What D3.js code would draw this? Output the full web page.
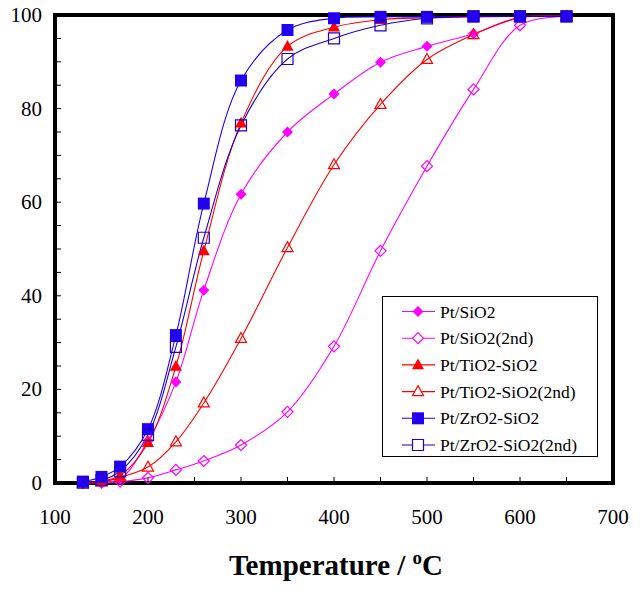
<!DOCTYPE html>
<html><head><meta charset="utf-8">
<script src="https://cdn.jsdelivr.net/npm/d3@7"></script>
<style>body{margin:0;background:#fff}svg{display:block}</style>
</head><body><svg id="c" width="644" height="595"></svg>
<script>
const temps = [130,150,170,200,230,260,300,350,400,450,500,550,600,650];
const ptSiO2      = [0,0.2,0.8,9,21.6,41.2,61.7,75,83.1,89.9,93.3,96,99.4,99.7];
const ptSiO2_2nd  = [0,0.1,0.3,1.1,2.8,4.7,8.1,15.2,29.2,49.6,67.7,84.1,97.8,99.7];
const ptTiO2      = [0.1,0.4,1.6,8.6,24.9,49.6,76.9,93.3,97.4,99,99.4,99.6,99.7,99.7];
const ptTiO2_2nd  = [0,0.2,1.2,3.4,8.8,17.1,30.9,50.3,68,80.9,90.5,95.8,99.5,99.7];
const ptZrO2      = [0.3,1.3,3.5,11.5,31.6,59.7,86,96.8,99.3,99.6,99.6,99.7,99.7,99.7];
const ptZrO2_2nd  = [0.1,0.6,2.5,10.3,29.1,52.4,76.4,90.6,95,97.8,99.3,99.7,99.7,99.7];
const seriesNames = ["Pt/SiO2","Pt/SiO2(2nd)","Pt/TiO2-SiO2","Pt/TiO2-SiO2(2nd)","Pt/ZrO2-SiO2","Pt/ZrO2-SiO2(2nd)"];
const xTicks = [100,200,300,400,500,600,700];
const yTicks = [0,20,40,60,80,100];

const series = [
  {name:seriesNames[0], v:ptSiO2, color:"#ff00ff", shape:"diamond", fill:true},
  {name:seriesNames[1], v:ptSiO2_2nd, color:"#ff00ff", shape:"diamond", fill:false},
  {name:seriesNames[2], v:ptTiO2, color:"#ff0000", shape:"triangle", fill:true},
  {name:seriesNames[3], v:ptTiO2_2nd, color:"#ff0000", shape:"triangle", fill:false},
  {name:seriesNames[4], v:ptZrO2, color:"#2200f0", shape:"square", fill:true},
  {name:seriesNames[5], v:ptZrO2_2nd, color:"#2000c8", shape:"square", fill:false},
];

const FF = '"Liberation Serif", "Times New Roman", Times, serif';
const svg = d3.select("#c");
const L=55, R=613, T=15, B=483;
const x = d3.scaleLinear().domain([100,700]).range([L,R]);
const y = d3.scaleLinear().domain([0,100]).range([B,T]);

// minor ticks
svg.append("g").selectAll("line").data(d3.range(5,100,5)).join("line")
  .attr("x1",L).attr("x2",L+6).attr("y1",d=>y(d)).attr("y2",d=>y(d))
  .attr("stroke","#000").attr("stroke-width",1);
svg.append("g").selectAll("line").data(d3.range(150,700,50)).join("line")
  .attr("x1",d=>x(d)).attr("x2",d=>x(d)).attr("y1",B).attr("y2",B-6)
  .attr("stroke","#000").attr("stroke-width",1);

// tick labels
svg.append("g").selectAll("text").data(yTicks).join("text")
  .style("font-family",FF).style("font-size","21px")
  .attr("x",42).attr("y",d=>y(d)+7).attr("text-anchor","end").text(d=>d);
svg.append("g").selectAll("text").data(xTicks).join("text")
  .style("font-family",FF).style("font-size","21px")
  .attr("x",d=>x(d)).attr("y",524).attr("text-anchor","middle").text(d=>d);

// frame
svg.append("rect").attr("x",L).attr("y",T).attr("width",R-L).attr("height",B-T)
  .attr("fill","none").attr("stroke","#000").attr("stroke-width",4);

function diamondPath(s){const h=s/2;return `M0,${-h}L${h},0L0,${h}L${-h},0Z`;}
function triPath(s){const h=s*0.9;return `M0,${-h*0.6}L${s/2},${h*0.4}L${-s/2},${h*0.4}Z`;}
function markerPath(d, filled){
  if(d.shape==="square"){const s=filled?12:11;return `M${-s/2},${-s/2}h${s}v${s}h${-s}Z`;}
  if(d.shape==="triangle") return triPath(filled?12:11);
  return diamondPath(11);
}

const line = d3.line().curve(d3.curveCatmullRom.alpha(0.5))
  .x(d=>x(d[0])).y(d=>y(d[1]));

const plot = svg.append("g");
series.forEach(s=>{
  const pts = temps.map((t,i)=>[t,s.v[i]]);
  plot.append("path").attr("d",line(pts)).attr("fill","none")
    .attr("stroke",s.color).attr("stroke-width",1.1);
});
series.forEach(s=>{
  const pts = temps.map((t,i)=>[t,s.v[i]]);
  plot.append("g").selectAll("path").data(pts).join("path")
    .attr("transform",d=>`translate(${x(d[0])},${y(d[1])})`)
    .attr("d",markerPath(s,s.fill))
    .attr("fill",s.fill?s.color:"#fff").attr("fill-opacity",s.fill?1:0)
    .attr("stroke",s.color).attr("stroke-width",s.fill?0:1.2);
});

// legend
const lg = svg.append("g");
lg.append("rect").attr("x",382.5).attr("y",296.5).attr("width",215).attr("height",160)
  .attr("fill","#fff").attr("stroke","#000").attr("stroke-width",1);
series.forEach((s,i)=>{
  const cy = 311.5 + i*26.7;
  lg.append("line").attr("x1",402).attr("x2",435).attr("y1",cy).attr("y2",cy)
    .attr("stroke",s.color).attr("stroke-width",1.1);
  lg.append("path").attr("transform",`translate(418,${cy})`).attr("d",markerPath(s,s.fill))
    .attr("fill",s.fill?s.color:"#fff").attr("stroke",s.color).attr("stroke-width",s.fill?0:1.2);
  lg.append("text").style("font-family",FF).style("font-size","17.5px")
    .attr("x",440).attr("y",cy+6).text(s.name);
});

// axis title
const tt = svg.append("text").style("font-family",FF).style("font-size","29px").style("font-weight","bold")
  .attr("x",336).attr("y",575).attr("text-anchor","middle");
tt.append("tspan").text("Temperature / ");
tt.append("tspan").style("font-size","19px").attr("dy",-11).text("o");
tt.append("tspan").attr("dy",11).text("C");
</script></body></html>
